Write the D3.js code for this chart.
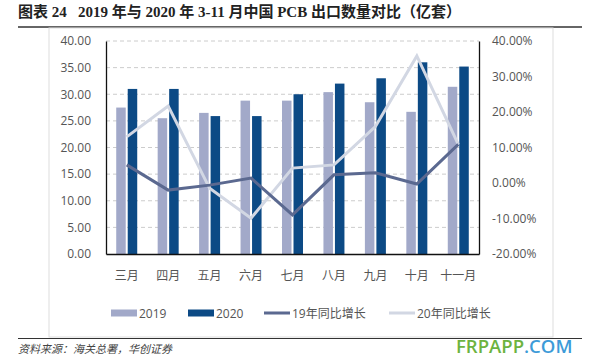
<!DOCTYPE html>
<html>
<head>
<meta charset="utf-8">
<script src="https://d3js.org/d3.v7.min.js"></script>
<style>
  body { margin: 0; background: #fff; }
  svg text { font-family: "Open Sans", "Noto Sans CJK SC", sans-serif; white-space: pre; }
</style>
</head>
<body>
<script>
var months = ["三月", "四月", "五月", "六月", "七月", "八月", "九月", "十月", "十一月"];
var y2019 = [27.5, 25.5, 26.5, 28.8, 28.8, 30.4, 28.5, 26.7, 31.4];
var y2020 = [31.0, 31.0, 25.9, 25.9, 30.0, 32.0, 33.0, 36.0, 35.2];
var g2019 = [5.1, -2.0, -0.6, 1.4, -9.0, 2.3, 2.9, -0.3, 10.9];
var g2020 = [13.0, 21.7, -1.5, -9.9, 4.2, 5.1, 15.9, 35.8, 10.9];
var leftTicks = [0, 5, 10, 15, 20, 25, 30, 35, 40];
var rightTicks = [-20, -10, 0, 10, 20, 30, 40];

var W = 597, H = 359;
var svg = d3.select("body").append("svg").attr("width", W).attr("height", H);

// title + rule
svg.append("text").attr("x", 18).attr("y", 17)
  .style("font-family", "'Liberation Serif', 'Noto Sans CJK SC', serif")
  .style("font-weight", "bold").style("font-size", "15px").attr("fill", "#222")
  .text("图表 24   2019 年与 2020 年 3-11 月中国 PCB 出口数量对比（亿套）");
svg.append("line").attr("x1", 18).attr("x2", 582).attr("y1", 27).attr("y2", 27)
  .attr("stroke", "#333").attr("stroke-width", 1.5);

// chart box
svg.append("rect").attr("x", 49).attr("y", 28).attr("width", 504).attr("height", 309)
  .attr("fill", "none").attr("stroke", "#ddd");

var pl = 106, pr = 479, pt = 41, pb = 254;
var x = d3.scaleBand().domain(months).range([pl, pr]);
var y = d3.scaleLinear().domain([0, 40]).range([pb, pt]);
var y2 = d3.scaleLinear().domain([-20, 40]).range([pb, pt]);

// grid
svg.append("g").selectAll("line").data(leftTicks.slice(1)).join("line")
  .attr("x1", pl).attr("x2", pr)
  .attr("y1", d => y(d)).attr("y2", d => y(d))
  .attr("stroke", "#ccc").attr("stroke-dasharray", "4,3");

// bars
var bw = 9.5;
svg.append("g").selectAll("rect").data(y2019).join("rect")
  .attr("x", (d, i) => x(months[i]) + x.bandwidth() / 2 - bw - 1)
  .attr("width", bw).attr("y", d => y(d)).attr("height", d => pb - y(d))
  .attr("fill", "#A2A9C9");
svg.append("g").selectAll("rect").data(y2020).join("rect")
  .attr("x", (d, i) => x(months[i]) + x.bandwidth() / 2 + 1)
  .attr("width", bw).attr("y", d => y(d)).attr("height", d => pb - y(d))
  .attr("fill", "#0C4A85");

// lines
var cx = i => x(months[i]) + x.bandwidth() / 2;
var line = d3.line().x((d, i) => cx(i)).y(d => y2(d));
svg.append("path").datum(g2020).attr("d", line).attr("fill", "none")
  .attr("stroke", "#D2D7E3").attr("stroke-width", 3);
svg.append("path").datum(g2019).attr("d", line).attr("fill", "none")
  .attr("stroke", "#5B6990").attr("stroke-width", 3);

// axes
var ax = d3.axisLeft(y).tickValues(leftTicks).tickSize(0).tickPadding(15).tickFormat(d3.format(".2f"));
var gl = svg.append("g").attr("transform", "translate(" + pl + ",0)").call(ax);
var ar = d3.axisRight(y2).tickValues(rightTicks).tickSize(0).tickPadding(13).tickFormat(d => d.toFixed(2) + "%");
var gr = svg.append("g").attr("transform", "translate(" + pr + ",0)").call(ar);
var ab = d3.axisBottom(x).tickSize(0).tickPadding(17);
var gb = svg.append("g").attr("transform", "translate(0," + pb + ")").call(ab);
[gl, gr, gb].forEach(g => {
  g.select(".domain").attr("stroke", "#111").attr("stroke-width", 1.3);
  g.selectAll("text").attr("fill", "#555").style("font-size", "12px");
});

// legend
var legend = [
  {label: "2019", color: "#A2A9C9", type: "bar", x: 111},
  {label: "2020", color: "#0C4A85", type: "bar", x: 188},
  {label: "19年同比增长", color: "#5B6990", type: "line", x: 264},
  {label: "20年同比增长", color: "#D2D7E3", type: "line", x: 389}
];
var lg = svg.append("g").selectAll("g").data(legend).join("g")
  .attr("transform", d => "translate(" + d.x + ",313)");
lg.append("rect").attr("y", d => d.type === "bar" ? -3.5 : -1.5).attr("width", 26)
  .attr("height", d => d.type === "bar" ? 7 : 3).attr("fill", d => d.color);
lg.append("text").attr("x", 28).attr("y", 4.5).attr("fill", "#555").style("font-size", "12px")
  .text(d => d.label);

// source
svg.append("line").attr("x1", 18).attr("x2", 582).attr("y1", 338.5).attr("y2", 338.5)
  .attr("stroke", "#333").attr("stroke-width", 1);
svg.append("text").attr("x", 18).attr("y", 353).attr("fill", "#444")
  .style("font-size", "11px").style("font-style", "italic")
  .text("资料来源：海关总署，华创证券");
var wm = svg.append("text").attr("x", 456).attr("y", 353)
  .style("font-family", "'Open Sans', sans-serif").style("font-size", "18.5px").style("font-weight", "600");
wm.append("tspan").attr("fill", "#6DB33F").text("FRPAPP");
wm.append("tspan").attr("fill", "#3D9BD8").text(".COM");
</script>
</body>
</html>
